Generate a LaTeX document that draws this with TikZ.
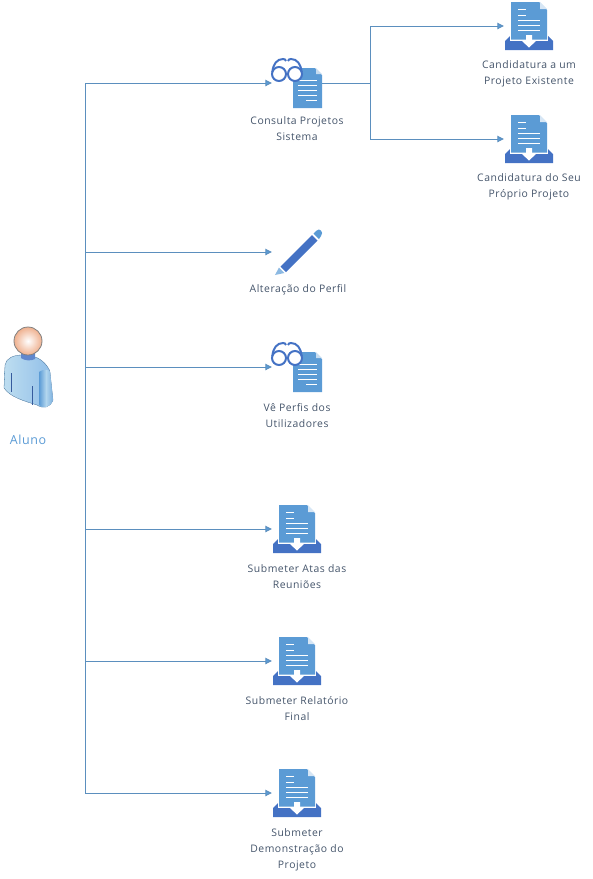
\documentclass[tikz,border=0pt]{standalone}
\usepackage{fontspec}
\setmainfont{Open Sans}
\usetikzlibrary{arrows.meta}

\definecolor{linhaazul}{HTML}{5B8FBE}
\definecolor{docazul}{HTML}{5B9BD5}
\definecolor{escuro}{HTML}{4472C4}
\definecolor{texto}{HTML}{44546A}
\definecolor{pele}{HTML}{EFB08E}
\definecolor{corpoclaro}{HTML}{C9E6F2}
\definecolor{corpomeio}{HTML}{8FBDE8}

\tikzset{
linha/.style={draw=linhaazul,line width=0.9pt},
seta/.style={linha,-{Triangle[length=6.5pt,width=6.5pt,fill=docazul]}},
icone/.style={inner sep=0pt,minimum width=50pt,minimum height=50pt},
rotulo/.style={align=center,text=texto,font=\fontsize{10.4}{16}\selectfont\addfontfeatures{LetterSpace=5},inner sep=0pt},
leitura/.pic={
\fill[docazul] (-4,-15) -- (18,-15) -- (25,-8) -- (25,25) -- (-4,25) -- cycle;
\fill[docazul!35] (19,-15) -- (25,-9) -- (19,-9) -- cycle;
\foreach \y in {-3,2,7,12} {
\draw[white,line width=0.9pt] (1,\y) -- (20,\y);
}
\draw[white,line width=0.9pt] (9,17) -- (20,17);
\draw[escuro,line width=2pt,fill=white] (-18,-9) circle (7);
\draw[escuro,line width=2pt,fill=white] (-2,-9) circle (7);
\draw[escuro,line width=2pt] (-24.6,-11) .. controls (-24,-19) and (-20,-24) .. (-14,-24) .. controls (-12.5,-24) and (-11.5,-23.5) .. (-11,-22);
\draw[escuro,line width=2pt] (4.6,-11) .. controls (4,-19) and (0,-24) .. (-6,-24) .. controls (-7.5,-24) and (-8.5,-23.5) .. (-9,-22);
},
entrega/.pic={
\fill[escuro] (-24,24) -- (-24,15) -- (-17,8) -- (17,8) -- (24,15) -- (24,24) -- cycle;
\fill[white] (-19,8) rectangle (19,15);
\fill[docazul] (-18,-24) -- (10,-24) -- (18,-16) -- (18,13.5) -- (-18,13.5) -- cycle;
\fill[docazul!25] (11,-24) -- (18,-17) -- (11,-17) -- cycle;
\foreach \y in {-17,-11} {
\draw[white,line width=0.9pt] (-11,\y) -- (-3,\y);
}
\foreach \y in {-6,-1,4} {
\draw[white,line width=0.9pt] (-11,\y) -- (11,\y);
}
\fill[white] (-3,9) -- (3,9) -- (3,15) -- (7,15) -- (0,21.5) -- (-7,15) -- (-3,15) -- cycle;
},
lapis/.pic={
\fill[escuro] (-16.5,14.5) -- (15,-17) -- (20.5,-11.5) -- (-11,20) -- cycle;
\fill[docazul] (16.5,-18.5) -- (19,-21) .. controls (21,-23) and (23,-23) .. (24,-21.5) .. controls (25.5,-20) and (25.5,-18) .. (24,-16) -- (22,-13) -- cycle;
\fill[docazul!70] (-18,15.5) -- (-12.5,21) -- (-22,23) -- cycle;
},
pessoa/.pic={
\path[left color=corpoclaro!80!corpomeio,right color=corpomeio,draw=docazul!70!black,line width=0.3pt]
(-23,-10) .. controls (-22,-17) and (-14,-20) .. (-6,-20)
-- (7,-18) .. controls (14,-16) and (21,-8) .. (22,-3)
-- (25,25) .. controls (22,33) and (15,34) .. (9,30)
.. controls (-4,26) and (-18,22) .. (-24,13) -- cycle;
\path[left color=docazul,right color=docazul!80,middle color=corpoclaro!60!corpomeio] (11,-3) .. controls (15,-6) and (21,-6) .. (22,-3) -- (25,25) .. controls (22,33) and (15,34) .. (11,30) -- cycle;
\draw[escuro!80!black,line width=0.7pt] (-17,-2) -- (-17,17);
\draw[escuro!80!black,line width=0.7pt] (4,11) -- (4,30);
\fill[escuro!85] (-7,-22) -- (7,-22) -- (7,-16) .. controls (3,-14) and (-3,-14) .. (-7,-17) -- cycle;
\shade[inner color=white,outer color=pele,draw=gray,line width=0.8pt] (0,-34) circle (14);
}
}

\begin{document}
\begin{tikzpicture}[x=1pt,y=-1pt]
\useasboundingbox (0,0) rectangle (593,879);

%aluno
\node[icone] (aluno) at (28,375) {};
\pic at (aluno) {pessoa};
\node[text=docazul,inner sep=0pt,font=\fontsize{12.5}{14}\selectfont\addfontfeatures{LetterSpace=5}] (nomealuno) at (28,440) {Aluno};

\coordinate (topo) at (85,83);
\coordinate (base) at (85,793);
\coordinate (ramo) at (370,83);
\draw[linha] (topo) -- (base);

%consultas
\foreach \nome/\y/\txt/\d in {consulta/83/{Consulta Projetos\\Sistema}/46, perfis/367/{Vê Perfis dos\\Utilizadores}/49} {
\node[icone] (\nome) at (297,\y) {};
\pic at (\nome) {leitura};
\node[rotulo] (txt\nome) at (297,\y+\d) {\txt};
\draw[seta] (topo |- \nome) -- (\nome);
}

\node[icone] (alteracao) at (297,252) {};
\pic at (alteracao) {lapis};
\node[rotulo] (txtalteracao) at (298,290) {Alteração do Perfil};
\draw[seta] (topo |- alteracao) -- (alteracao);

%submissoes
\foreach \nome/\y in {atas/529, relatorio/661, demo/793} {
\node[icone] (\nome) at (297,\y) {};
\pic at (\nome) {entrega};
\draw[seta] (topo |- \nome) -- (\nome);
}
\node[rotulo] (txtatas) at (297,577) {Submeter Atas das\\Reuniões};
\node[rotulo] (txtrelatorio) at (297,709) {Submeter Relatório\\Final};
\node[rotulo] (txtdemo) at (297,850) {Submeter\\Demonstração do\\Projeto};

%candidaturas
\foreach \nome/\y/\txt in {existente/26/{Candidatura a um\\Projeto Existente}, proprio/139/{Candidatura do Seu\\Próprio Projeto}} {
\node[icone] (\nome) at (529,\y) {};
\pic at (\nome) {entrega};
\node[rotulo] (txt\nome) at (529,\y+48) {\txt};
\draw[seta] (ramo) |- (\nome);
}
\draw[linha] (consulta) -- (ramo);

\end{tikzpicture}
\end{document}
